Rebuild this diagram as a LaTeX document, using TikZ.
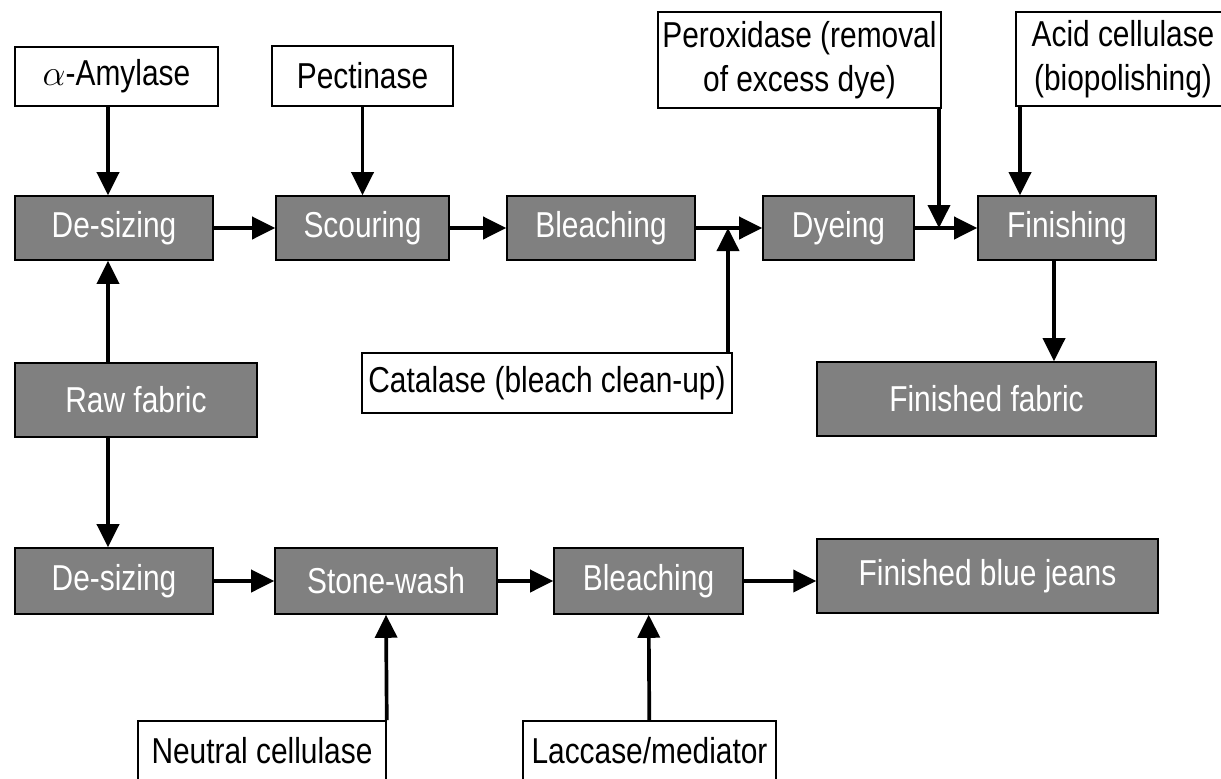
\documentclass[tikz,border=0pt]{standalone}
\usepackage{fontspec}
\setmainfont[FakeStretch=0.83]{Liberation Sans}
\usetikzlibrary{arrows.meta, positioning, calc}
\definecolor{stepgray}{RGB}{128,128,128}

\begin{document}
\begin{tikzpicture}[
  x=0.02cm, y=-0.02cm,
  proc/.style={draw, line width=0.9pt, fill=stepgray, text=white, minimum width=#1, minimum height=1.28cm, inner sep=0pt, font=\fontsize{20.5}{25}\selectfont},
  enz/.style={draw, line width=0.9pt, fill=white, minimum width=#1, minimum height=1.2cm, inner sep=0pt, align=center, font=\fontsize{20.5}{25}\selectfont},
  arr/.style={-{Triangle[length=0.46cm, width=0.44cm]}, line width=2.1pt},
]
\useasboundingbox (0,0) rectangle (1221,778);

% Main line
\node[proc=3.96cm] (desz1) at (114,228) {De-sizing};
\node[proc=3.46cm] (scour) at (362.5,228) {Scouring};
\node[proc=3.76cm] (bleach1) at (601,228) {Bleaching};
\node[proc=3.02cm] (dye) at (838.5,228) {Dyeing};
\node[proc=3.56cm] (finish) at (1067,228) {Finishing};
\node[proc=4.84cm, minimum height=1.48cm] (rawf) at (136,400) {Raw fabric};
\node[proc=6.78cm, minimum height=1.48cm] (ffab) at (986.5,399) {Finished fabric};

% Denim line
\node[proc=3.96cm, minimum height=1.32cm] (desz2) at (114,581) {De-sizing};
\node[proc=4.44cm, minimum height=1.32cm] (stone) at (386,581) {Stone-wash};
\node[proc=3.78cm, minimum height=1.32cm] (bleach2) at (648.5,581) {Bleaching};
\node[proc=6.82cm, minimum height=1.48cm] (jeans) at (987.5,576) {Finished blue jeans};

% Enzymes
\node[enz=4.06cm, minimum height=1.18cm] (amyl) at (116.5,76.5) {$\alpha$-Amylase};
\node[enz=3.62cm] (pect) at (362.5,76) {Pectinase};
\node[enz=5.66cm, minimum height=1.92cm] (perox) at (799.5,60) {Peroxidase (removal\\of excess dye)};
\node[enz=4.28cm, minimum height=1.88cm] (acid) at (1123,59) {Acid cellulase\\(biopolishing)};
\node[enz=7.4cm] (cat) at (547,383) {Catalase (bleach clean-up)};
\node[enz=4.96cm] (neut) at (262,751) {Neutral cellulase};
\node[enz=5.06cm] (lacc) at (649.5,751) {Laccase/mediator};

% Joins
\coordinate (trunk) at (108,0);
\coordinate (catj) at (728,228);
\coordinate (perj) at (939,228);
\coordinate (acidx) at (1020,0);
\coordinate (ffx) at (1054,0);

% Transitions
\draw[arr] (desz1) -- (scour);
\draw[arr] (scour) -- (bleach1);
\draw[arr] (bleach1) -- (dye);
\draw[arr] (dye) -- (finish);
\draw[arr] (finish.south -| ffx) -- (ffab.north -| ffx);
\draw[arr] (rawf.north -| trunk) -- (desz1.south -| trunk);
\draw[arr] (rawf.south -| trunk) -- (desz2.north -| trunk);
\draw[arr] (desz2) -- (stone);
\draw[arr] (stone) -- (bleach2);
\draw[arr] (bleach2.east) -- (bleach2.east -| jeans.west);

% Enzyme inputs
\draw[arr] (amyl.south -| trunk) -- (desz1.north -| trunk);
\draw[arr] (pect) -- (scour);
\draw[arr] (cat.north -| catj) -- (catj);
\draw[arr] (perox.south -| perj) -- (perj);
\draw[arr] (acid.south -| acidx) -- (finish.north -| acidx);
\draw[arr] (neut.north east) -- (stone.south);
\draw[arr] (lacc) -- (bleach2);

\end{tikzpicture}
\end{document}
